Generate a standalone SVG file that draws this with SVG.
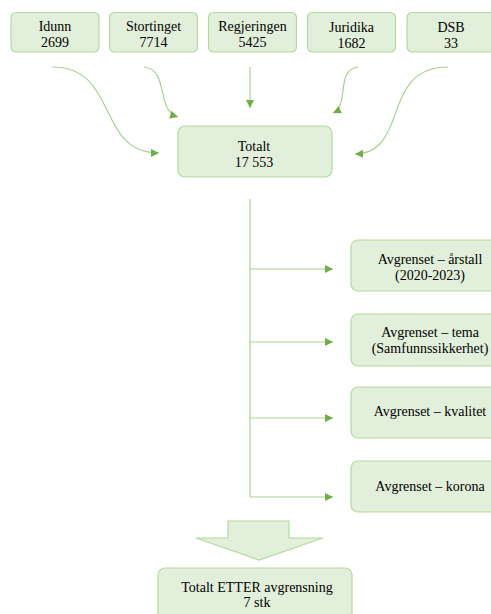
<svg xmlns="http://www.w3.org/2000/svg" width="491" height="614" viewBox="0 0 491 614">
<style>
.box{fill:#e2efda;stroke:#b5d99c;stroke-width:1.2}
.t{font-family:"Liberation Serif","Times New Roman",serif;font-size:14px;fill:#000;text-anchor:middle}
.c{fill:none;stroke:#a9d18e;stroke-width:1.2}
</style>
<defs>
<marker id="ah" markerWidth="10" markerHeight="10" refX="8" refY="4" orient="auto" markerUnits="userSpaceOnUse">
<path d="M0,0 L8,4 L0,8 Z" fill="#70ad47"/>
</marker>
</defs>
<rect width="491" height="614" fill="#fff"/>
<g id="connectors">
<path class="c" d="M52,67 C120,67 95,153 159,153" marker-end="url(#ah)"/>
<path class="c" d="M144,67 C170,70 155,110 178,117" marker-end="url(#ah)"/>
<path class="c" d="M250,67 L250,108" marker-end="url(#ah)"/>
<path class="c" d="M358,67 C335,70 350,105 333,113" marker-end="url(#ah)"/>
<path class="c" d="M448,67 C380,67 410,153 355,154" marker-end="url(#ah)"/>
<path class="c" d="M250,199 L250,497"/>
<path class="c" d="M250,269 L333,269" marker-end="url(#ah)"/>
<path class="c" d="M250,342 L333,342" marker-end="url(#ah)"/>
<path class="c" d="M250,418 L333,418" marker-end="url(#ah)"/>
<path class="c" d="M250,497 L333,497" marker-end="url(#ah)"/>
<polygon id="bigarrow" points="228,521 289,521 289,538 323,538 259,560 196,538 228,538" fill="#e2efda" stroke="#b5d99c" stroke-width="1.2"/>
</g>
<g id="idunn"><rect class="box" x="11" y="12.5" width="88" height="39.5" rx="5"/><text class="t" x="55" y="31">Idunn</text><text class="t" x="55" y="47">2699</text></g>
<g id="stortinget"><rect class="box" x="109.5" y="12.5" width="88" height="39.5" rx="5"/><text class="t" x="153.5" y="31">Stortinget</text><text class="t" x="153.5" y="47">7714</text></g>
<g id="regjeringen"><rect class="box" x="208.5" y="12.5" width="88" height="39.5" rx="5"/><text class="t" x="252.5" y="31">Regjeringen</text><text class="t" x="252.5" y="47">5425</text></g>
<g id="juridika"><rect class="box" x="307.5" y="12.5" width="88" height="39.5" rx="5"/><text class="t" x="351.5" y="32">Juridika</text><text class="t" x="351.5" y="48">1682</text></g>
<g id="dsb"><rect class="box" x="407" y="12.5" width="88" height="39.5" rx="5"/><text class="t" x="451" y="32">DSB</text><text class="t" x="451" y="48">33</text></g>
<g id="totalt"><rect class="box" x="178" y="126" width="154" height="51" rx="7"/><text class="t" x="254" y="150.5">Totalt</text><text class="t" x="254" y="166.5">17 553</text></g>
<g id="arstall"><rect class="box" x="351" y="240" width="158" height="51" rx="7"/><text class="t" x="430" y="264">Avgrenset – årstall</text><text class="t" x="430" y="280">(2020-2023)</text></g>
<g id="tema"><rect class="box" x="351" y="314" width="158" height="52" rx="7"/><text class="t" x="430" y="337">Avgrenset – tema</text><text class="t" x="430" y="353">(Samfunnssikkerhet)</text></g>
<g id="kvalitet"><rect class="box" x="351" y="387" width="158" height="51" rx="7"/><text class="t" x="430" y="415.5">Avgrenset – kvalitet</text></g>
<g id="korona"><rect class="box" x="351" y="461" width="158" height="51" rx="7"/><text class="t" x="430" y="490.5">Avgrenset – korona</text></g>
<g id="etter"><rect class="box" x="158" y="568" width="194" height="56" rx="7"/><text class="t" x="257" y="592">Totalt ETTER avgrensning</text><text class="t" x="257" y="607">7 stk</text></g>
</svg>
